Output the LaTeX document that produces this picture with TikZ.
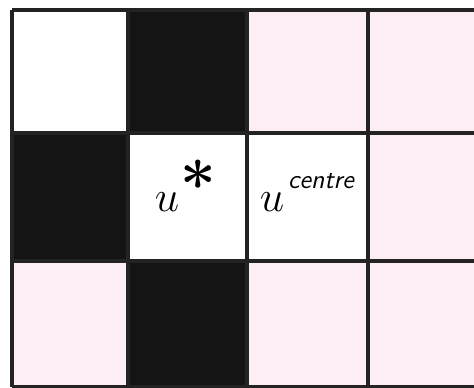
\documentclass[tikz,border=0pt]{standalone}
\usepackage{amsmath,amssymb}
\usepackage{tikz}
\usepackage{xcolor}
\definecolor{cellpink}{RGB}{253,237,245}
\definecolor{cellblack}{RGB}{20,20,20}
\definecolor{gridline}{RGB}{35,35,35}

\begin{document}
\begin{tikzpicture}[
    x=0.02cm, y=0.02cm,
    pinkcell/.style={fill=cellpink},
    blackcell/.style={fill=cellblack},
    gridrule/.style={draw=gridline, line width=1.8pt},
    varlabel/.style={inner sep=0pt, font=\fontsize{23}{23}\selectfont},
    starlabel/.style={inner sep=0pt, font=\fontsize{36}{36}\selectfont\bfseries},
    suplabel/.style={inner sep=0pt, font=\fontsize{15}{15}\selectfont\sffamily\itshape},
]
\clip (0,0) rectangle (474,388);
\fill[white] (0,0) rectangle (474,388);

% cells, top row
\fill[blackcell] (128,255) rectangle (247,378);
\fill[pinkcell] (247,255) rectangle (368,378);
\fill[pinkcell] (368,255) rectangle (490,378);
% middle row
\fill[blackcell] (12,127) rectangle (128,255);
\fill[pinkcell] (368,127) rectangle (490,255);
% bottom row
\fill[pinkcell] (12,1) rectangle (128,127);
\fill[blackcell] (128,1) rectangle (247,127);
\fill[pinkcell] (247,1) rectangle (368,127);
\fill[pinkcell] (368,1) rectangle (490,127);

% grid
\foreach \gx in {12,128,247,368}
  \draw[gridrule] (\gx,1) -- (\gx,378);
\foreach \gy in {1,127,255,378}
  \draw[gridrule] (12,\gy) -- (490,\gy);

% labels
\node[varlabel] (ustar) at (167,186) {$u$};
\node[starlabel] (star) at (198,204) {*};
\node[varlabel] (ucentre) at (272,186) {$u$};
\node[suplabel] (centre) at (321,207) {centre};
\end{tikzpicture}
\end{document}
